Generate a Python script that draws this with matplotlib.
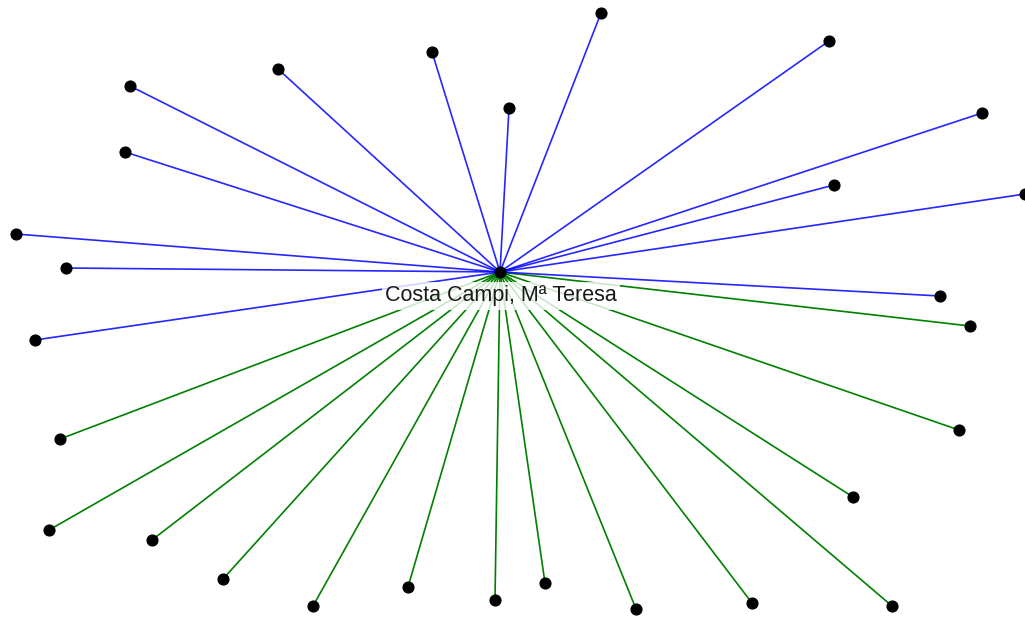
import matplotlib.pyplot as plt

center = (500, 272)
center_label = "Costa Campi, Mª Teresa"

blue_x = [601, 829, 432, 278, 130, 509, 982, 125, 834, 1025, 16, 66, 940, 35]
blue_y = [13, 41, 52, 69, 86, 108, 113, 152, 185, 194, 234, 268, 296, 340]

green_x = [970, 959, 60, 853, 49, 152, 223, 545, 408, 313, 495, 636, 752, 892]
green_y = [326, 430, 439, 497, 530, 540, 579, 583, 587, 606, 600, 609, 603, 606]


def plot_network():
    fig = plt.figure(figsize=(10.25, 6.29), dpi=100)
    ax = fig.add_axes([0, 0, 1, 1])
    ax.set_xlim(0, 1025)
    ax.set_ylim(629, 0)
    ax.axis("off")

    cx, cy = center
    for x, y in zip(green_x, green_y):
        ax.plot([cx, x], [cy, y], color="green", lw=1.2, zorder=1)
    for x, y in zip(blue_x, blue_y):
        ax.plot([cx, x], [cy, y], color="blue", lw=1.2, zorder=1, alpha=0.85)

    ax.scatter(blue_x + green_x, blue_y + green_y, s=60, color="black", zorder=3, clip_on=False)
    ax.scatter([cx], [cy], s=60, color="black", zorder=4)

    ax.text(cx + 1, cy + 24, center_label, ha="center", va="center",
            fontsize=15.5, family="Liberation Sans", color="#1a1a1a", zorder=2,
            bbox=dict(facecolor="white", edgecolor="none", alpha=0.8, pad=2.5))

    fig.savefig("out.png", dpi=100)
    plt.close(fig)


if __name__ == "__main__":
    plot_network()
